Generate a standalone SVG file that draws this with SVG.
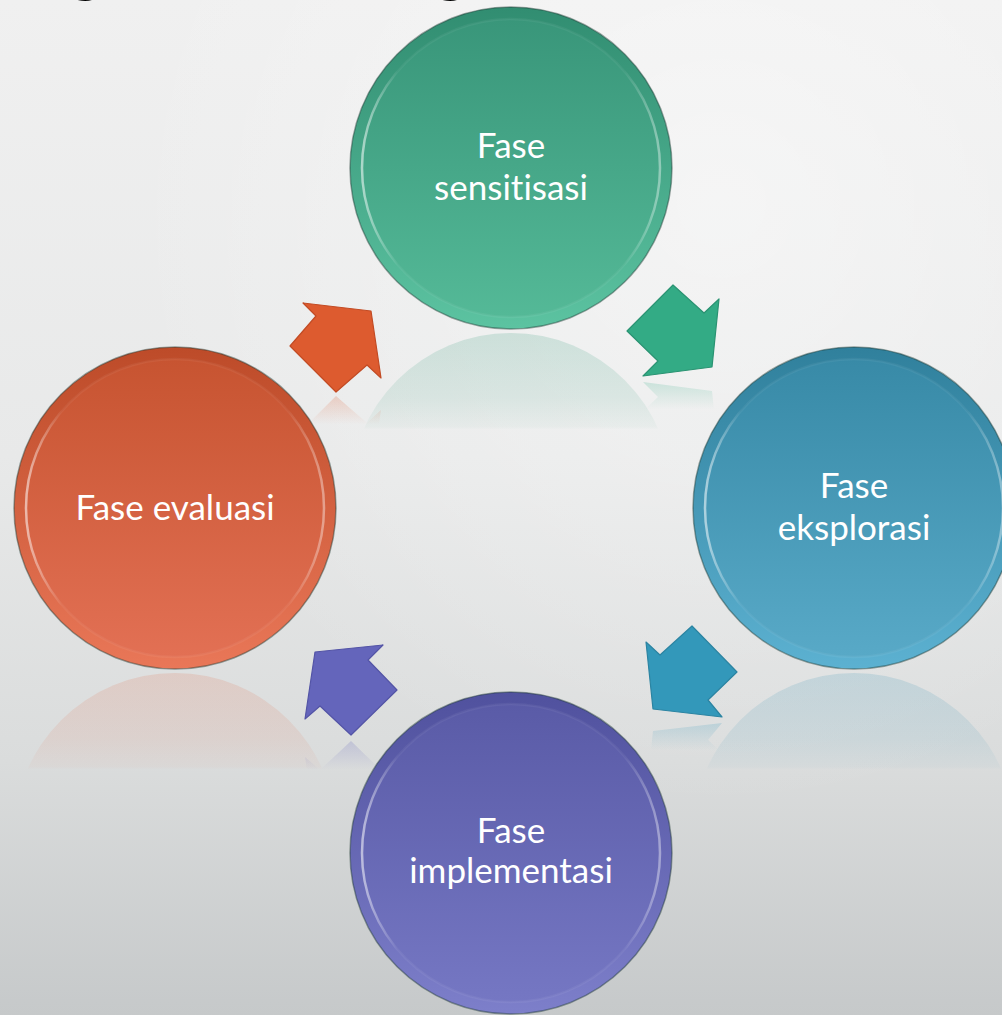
<svg xmlns="http://www.w3.org/2000/svg" width="1002" height="1015" viewBox="0 0 1002 1015">
  <defs>
    <style>
      .label { font-family: "Lato", "Open Sans", "Liberation Sans", sans-serif; font-size: 35px; fill: #ffffff; text-anchor: middle; font-variant-ligatures: none; }
      .title { font-family: "Lato", "Liberation Sans", sans-serif; font-size: 64px; font-weight: bold; fill: #000000; text-anchor: middle; }
      .edge { stroke: #1e3a33; stroke-opacity: 0.45; stroke-width: 1.5; }
      .face { stroke: url(#hl); stroke-width: 2.5; }
      .arrow { stroke-width: 1.2; stroke-linejoin: round; }
    </style>

    <!-- backdrop -->
    <linearGradient id="bg" x1="0" y1="0" x2="0" y2="1">
      <stop offset="0" stop-color="#f0f0f0"/>
      <stop offset="0.45" stop-color="#e8e9e9"/>
      <stop offset="0.75" stop-color="#dadcdc"/>
      <stop offset="1" stop-color="#c6c9ca"/>
    </linearGradient>
    <radialGradient id="bgGlow" cx="0.72" cy="0.2" r="0.6">
      <stop offset="0" stop-color="#ffffff" stop-opacity="0.45"/>
      <stop offset="1" stop-color="#ffffff" stop-opacity="0"/>
    </radialGradient>

    <!-- rim highlight shared by all discs -->
    <linearGradient id="hl" x1="0" y1="0" x2="1" y2="0">
      <stop offset="0" stop-color="#ffffff" stop-opacity="0.55"/>
      <stop offset="0.12" stop-color="#ffffff" stop-opacity="0.05"/>
      <stop offset="0.88" stop-color="#ffffff" stop-opacity="0.05"/>
      <stop offset="1" stop-color="#ffffff" stop-opacity="0.4"/>
    </linearGradient>

    <!-- green -->
    <linearGradient id="gRim" x1="0" y1="0" x2="0" y2="1">
      <stop offset="0" stop-color="#318d71"/>
      <stop offset="1" stop-color="#5cc3a1"/>
    </linearGradient>
    <linearGradient id="gFace" x1="0" y1="0" x2="0" y2="1">
      <stop offset="0" stop-color="#39967a"/>
      <stop offset="1" stop-color="#54b997"/>
    </linearGradient>
    <linearGradient id="gRefl" x1="0" y1="0" x2="0" y2="1">
      <stop offset="0" stop-color="#3f9e80" stop-opacity="0.2"/>
      <stop offset="0.2" stop-color="#3f9e80" stop-opacity="0.12"/>
      <stop offset="0.29" stop-color="#3f9e80" stop-opacity="0.04"/>
      <stop offset="0.3" stop-color="#3f9e80" stop-opacity="0"/>
    </linearGradient>

    <!-- blue -->
    <linearGradient id="bRim" x1="0" y1="0" x2="0" y2="1">
      <stop offset="0" stop-color="#30809c"/>
      <stop offset="1" stop-color="#5cb1d1"/>
    </linearGradient>
    <linearGradient id="bFace" x1="0" y1="0" x2="0" y2="1">
      <stop offset="0" stop-color="#388aa7"/>
      <stop offset="1" stop-color="#58a9c7"/>
    </linearGradient>
    <linearGradient id="bRefl" x1="0" y1="0" x2="0" y2="1">
      <stop offset="0" stop-color="#4a9ab8" stop-opacity="0.2"/>
      <stop offset="0.2" stop-color="#4a9ab8" stop-opacity="0.12"/>
      <stop offset="0.29" stop-color="#4a9ab8" stop-opacity="0.04"/>
      <stop offset="0.3" stop-color="#4a9ab8" stop-opacity="0"/>
    </linearGradient>

    <!-- purple -->
    <linearGradient id="pRim" x1="0" y1="0" x2="0" y2="1">
      <stop offset="0" stop-color="#50519e"/>
      <stop offset="1" stop-color="#7d7fca"/>
    </linearGradient>
    <linearGradient id="pFace" x1="0" y1="0" x2="0" y2="1">
      <stop offset="0" stop-color="#5a5ba7"/>
      <stop offset="1" stop-color="#7577c3"/>
    </linearGradient>

    <!-- orange -->
    <linearGradient id="oRim" x1="0" y1="0" x2="0" y2="1">
      <stop offset="0" stop-color="#bd4b29"/>
      <stop offset="1" stop-color="#e97758"/>
    </linearGradient>
    <linearGradient id="oFace" x1="0" y1="0" x2="0" y2="1">
      <stop offset="0" stop-color="#c75431"/>
      <stop offset="1" stop-color="#e27054"/>
    </linearGradient>
    <linearGradient id="oRefl" x1="0" y1="0" x2="0" y2="1">
      <stop offset="0" stop-color="#e0704f" stop-opacity="0.18"/>
      <stop offset="0.2" stop-color="#e0704f" stop-opacity="0.11"/>
      <stop offset="0.29" stop-color="#e0704f" stop-opacity="0.04"/>
      <stop offset="0.3" stop-color="#e0704f" stop-opacity="0"/>
    </linearGradient>

    <!-- arrow mirror images: only the lowest part of the shape shows, fading out -->
    <linearGradient id="oArrRefl" x1="0" y1="0" x2="0" y2="1">
      <stop offset="0.68" stop-color="#dd5b2f" stop-opacity="0"/>
      <stop offset="1" stop-color="#dd5b2f" stop-opacity="0.22"/>
    </linearGradient>
    <linearGradient id="gArrRefl" x1="0" y1="0" x2="0" y2="1">
      <stop offset="0.7" stop-color="#33ab85" stop-opacity="0"/>
      <stop offset="1" stop-color="#33ab85" stop-opacity="0.2"/>
    </linearGradient>
    <linearGradient id="bArrRefl" x1="0" y1="0" x2="0" y2="1">
      <stop offset="0.7" stop-color="#3398ba" stop-opacity="0"/>
      <stop offset="1" stop-color="#3398ba" stop-opacity="0.2"/>
    </linearGradient>
    <linearGradient id="pArrRefl" x1="0" y1="0" x2="0" y2="1">
      <stop offset="0.68" stop-color="#6465bb" stop-opacity="0"/>
      <stop offset="1" stop-color="#6465bb" stop-opacity="0.22"/>
    </linearGradient>
  </defs>

  <!-- backdrop -->
  <rect x="0" y="0" width="1002" height="1015" fill="url(#bg)"/>
  <rect x="0" y="0" width="1002" height="1015" fill="url(#bgGlow)"/>

  <!-- heading, mostly above the visible area -->
  <g id="heading">
    <text class="title" x="86" y="-10">g</text>
    <text class="title" x="451" y="-10">g</text>
  </g>

  <!-- floor reflections -->
  <g id="reflections">
    <circle cx="511" cy="494" r="161" fill="url(#gRefl)"/>
    <circle cx="854" cy="834" r="161" fill="url(#bRefl)"/>
    <circle cx="175" cy="834" r="161" fill="url(#oRefl)"/>
    <g transform="translate(0,788) scale(1,-1)">
      <polygon points="371,311 381,378 367,365 336,392 290,346 316,316 303,303" fill="url(#oArrRefl)"/>
    </g>
    <g transform="translate(0,758) scale(1,-1)">
      <polygon points="673,285 704,313 719,299 712,367 643,376 658,361 627,331" fill="url(#gArrRefl)"/>
    </g>
    <g transform="translate(0,1440) scale(1,-1)">
      <polygon points="692,626 737,672 708,700 722,717 653,709 646,642 660,655" fill="url(#bArrRefl)"/>
    </g>
    <g transform="translate(0,1476) scale(1,-1)">
      <polygon points="315,652 305,719 320,706 351,735 397,690 368,660 383,645" fill="url(#pArrRefl)"/>
    </g>
  </g>

  <!-- connectors: block arrows between phases -->
  <g id="connectors">
    <polygon id="arrow-sensitisasi-eksplorasi" class="arrow" points="673,285 704,313 719,299 712,367 643,376 658,361 627,331" fill="#33ab85" stroke="#2a9372"/>
    <polygon id="arrow-eksplorasi-implementasi" class="arrow" points="692,626 737,672 708,700 722,717 653,709 646,642 660,655" fill="#3398ba" stroke="#2b84a2"/>
    <polygon id="arrow-implementasi-evaluasi" class="arrow" points="315,652 305,719 320,706 351,735 397,690 368,660 383,645" fill="#6465bb" stroke="#5354a6"/>
    <polygon id="arrow-evaluasi-sensitisasi" class="arrow" points="371,311 381,378 367,365 336,392 290,346 316,316 303,303" fill="#dd5b2f" stroke="#c24b24"/>
  </g>

  <!-- phase discs -->
  <g id="node-sensitisasi" transform="translate(511,168)">
    <circle r="161" class="edge" fill="url(#gRim)"/>
    <circle r="149" class="face" fill="url(#gFace)"/>
    <text class="label" x="0" y="-10">Fase</text>
    <text class="label" x="0" y="32">sensitisasi</text>
  </g>

  <g id="node-eksplorasi" transform="translate(854,508)">
    <circle r="161" class="edge" fill="url(#bRim)"/>
    <circle r="149" class="face" fill="url(#bFace)"/>
    <text class="label" x="0" y="-10">Fase</text>
    <text class="label" x="0" y="32">eksplorasi</text>
  </g>

  <g id="node-implementasi" transform="translate(511,853)">
    <circle r="161" class="edge" fill="url(#pRim)"/>
    <circle r="149" class="face" fill="url(#pFace)"/>
    <text class="label" x="0" y="-10">Fase</text>
    <text class="label" x="0" y="30">implementasi</text>
  </g>

  <g id="node-evaluasi" transform="translate(175,508)">
    <circle r="161" class="edge" fill="url(#oRim)"/>
    <circle r="149" class="face" fill="url(#oFace)"/>
    <text class="label" x="0" y="12">Fase evaluasi</text>
  </g>
</svg>
